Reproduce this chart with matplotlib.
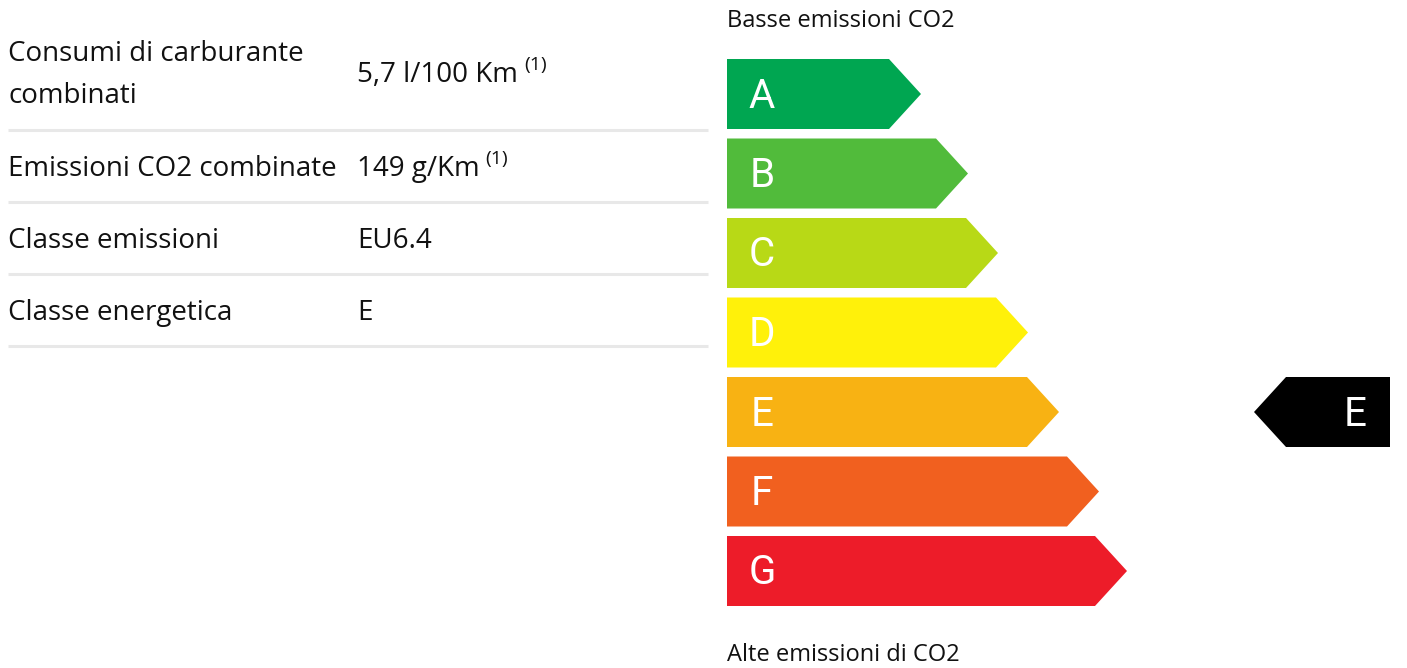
import matplotlib.pyplot as plt
from matplotlib.patches import Polygon

# energy label data
classes = ['A', 'B', 'C', 'D', 'E', 'F', 'G']
tip_x = [921, 968, 998, 1028, 1059, 1099, 1127]   # right tip of each arrow (px)
colors = ['#00a651', '#51bb3b', '#b8d916', '#fff10a', '#f8b213', '#f1601f', '#ed1c29']
current = 'E'

row_labels = ['Consumi di carburante\ncombinati', 'Emissioni CO2 combinate',
              'Classe emissioni', 'Classe energetica']
row_values = ['5,7 l/100 Km', '149 g/Km', 'EU6.4', 'E']
row_notes = ['(1)', '(1)', '', '']

W, H = 1407, 668
fig = plt.figure(figsize=(W / 100, H / 100), dpi=100)
ax = fig.add_axes([0, 0, 1, 1])
ax.set_xlim(0, W)
ax.set_ylim(H, 0)
ax.axis('off')

font = 'Open Sans'

# table on the left
row_y = [75, 169, 241, 313]
line_y = [130, 202, 274, 346]
texts = []
for i in range(len(row_labels)):
    ax.text(8, row_y[i], row_labels[i], fontsize=20, family=font, va='center',
            ha='left', color='#111111', linespacing=1.65)
    t = ax.text(357, row_y[i], row_values[i], fontsize=20, family=font, va='center',
                ha='left', color='#111111')
    texts.append(t)
    ax.plot([8, 708], [line_y[i], line_y[i]], color='#e8e8e8', lw=2.2, solid_capstyle='butt')

fig.canvas.draw()
r = fig.canvas.get_renderer()
for t, note in zip(texts, row_notes):
    if note:
        bb = t.get_window_extent(r)
        x0, _ = ax.transData.inverted().transform((bb.x1, bb.y0))
        y = t.get_position()[1]
        ax.text(x0 + 6, y - 10, note, fontsize=14, family=font, va='center',
                ha='left', color='#111111')

# energy arrows
left = 727
top0 = 59
step = 79.5
h = 70
for i, c in enumerate(classes):
    y0 = top0 + i * step
    tip = tip_x[i]
    d = h / 2 - 3
    poly = Polygon([(left, y0), (tip - d, y0), (tip, y0 + h / 2), (tip - d, y0 + h),
                    (left, y0 + h)], closed=True, facecolor=colors[i], edgecolor='none')
    ax.add_patch(poly)
    ax.text(left + 35, y0 + h / 2 + 2, c, fontsize=29, family='Roboto', color='white',
            va='center', ha='center')
    if c == current:
        mx0, mx1 = 1254, 1390
        mk = Polygon([(mx0, y0 + h / 2), (mx0 + d, y0), (mx1, y0), (mx1, y0 + h),
                      (mx0 + d, y0 + h)], closed=True, facecolor='black', edgecolor='none')
        ax.add_patch(mk)
        ax.text(1355, y0 + h / 2 + 2, c, fontsize=29, family='Roboto', color='white',
                va='center', ha='center')

ax.text(727, 21, 'Basse emissioni CO2', fontsize=17, family=font, va='center', ha='left',
        color='#111111')
ax.text(727, 655, 'Alte emissioni di CO2', fontsize=17, family=font, va='center', ha='left',
        color='#111111')

fig.savefig('out.png', dpi=100)
